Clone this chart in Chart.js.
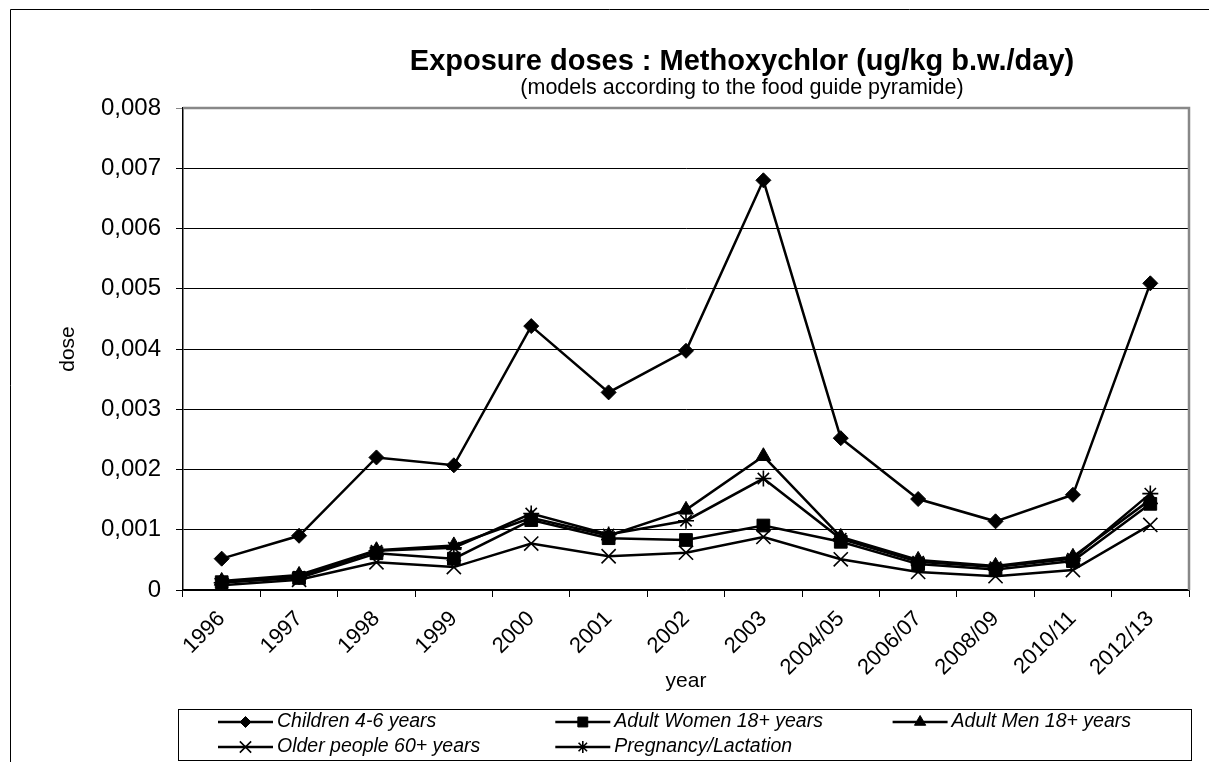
<!DOCTYPE html>
<html>
<head>
<meta charset="utf-8">
<script src="https://cdn.jsdelivr.net/npm/chart.js@4"></script>
<style>
  html, body { margin: 0; padding: 0; background: #fff; }
  #wrap { position: relative; width: 1209px; height: 762px; }
  canvas { display: block; }
</style>
</head>
<body>
<div id="wrap"><canvas id="c" width="1209" height="762"></canvas></div>
<script>
const titleText = "Exposure doses : Methoxychlor (ug/kg b.w./day)";
const subtitleText = "(models according to the food guide pyramide)";
const xAxisTitle = "year";
const yAxisTitle = "dose";

const categories = ["1996", "1997", "1998", "1999", "2000", "2001", "2002", "2003", "2004/05", "2006/07", "2008/09", "2010/11", "2012/13"];
const yTicks = [0, 0.001, 0.002, 0.003, 0.004, 0.005, 0.006, 0.007, 0.008];

const seriesNames = ["Children 4-6 years", "Adult Women 18+ years", "Adult Men 18+ years", "Older people 60+ years", "Pregnancy/Lactation"];
const children   = [0.00052, 0.0009, 0.0022, 0.00207, 0.00438, 0.00328, 0.00397, 0.0068, 0.00252, 0.00151, 0.00114, 0.00158, 0.00509];
const women      = [0.00013, 0.0002, 0.00061, 0.00052, 0.00116, 0.00086, 0.00083, 0.00107, 0.0008, 0.00043, 0.00034, 0.00048, 0.00143];
const men        = [0.00015, 0.00025, 0.00066, 0.00074, 0.0012, 0.0009, 0.00133, 0.00222, 0.00088, 0.0005, 0.0004, 0.00055, 0.0015];
const older      = [0.00008, 0.00017, 0.00046, 0.00038, 0.00077, 0.00056, 0.00062, 0.00088, 0.00051, 0.0003, 0.00023, 0.00033, 0.00108];
const pregnancy  = [0.00012, 0.00022, 0.00065, 0.0007, 0.00127, 0.00092, 0.00115, 0.00185, 0.00085, 0.00047, 0.00038, 0.00052, 0.0016];

const FONT = "'Liberation Sans', Arial, sans-serif";

const markers = [
  { style: 'rectRot', radius: 7.5, legendRadius: 5.5, width: 1 },
  { style: 'rect', radius: 9, legendRadius: 7, width: 1 },
  { style: 'triangle', radius: 8.5, legendRadius: 6.5, width: 1 },
  { style: 'crossRot', radius: 10, legendRadius: 8, width: 1.6 },
  { style: 'star', radius: 8, legendRadius: 6, width: 1.6 }
];
const allSeries = [children, women, men, older, pregnancy];

const datasets = allSeries.map((d, i) => ({
  label: seriesNames[i],
  data: d,
  borderColor: '#000',
  backgroundColor: '#000',
  borderWidth: 2.5,
  tension: 0,
  pointStyle: markers[i].style,
  pointRadius: markers[i].radius,
  pointHoverRadius: markers[i].radius,
  pointBackgroundColor: '#000',
  pointBorderColor: '#000',
  pointBorderWidth: markers[i].width
}));

const framePlugin = {
  id: 'frame',
  beforeDraw(chart) {
    const ctx = chart.ctx;
    ctx.save();
    ctx.fillStyle = '#fff';
    ctx.fillRect(0, 0, chart.width, chart.height);
    // outer chart frame (cut at right/bottom)
    ctx.strokeStyle = '#000';
    ctx.lineWidth = 1;
    ctx.beginPath();
    ctx.moveTo(10.5, chart.height);
    ctx.lineTo(10.5, 9.5);
    ctx.lineTo(chart.width, 9.5);
    ctx.stroke();
    // title + subtitle
    ctx.fillStyle = '#000';
    ctx.textAlign = 'center';
    ctx.textBaseline = 'middle';
    ctx.font = "bold 29px " + FONT;
    ctx.fillText(titleText, 742, 62);
    ctx.font = "21.5px " + FONT;
    ctx.fillText(subtitleText, 742, 88);
    ctx.restore();
  },
  beforeDatasetsDraw(chart) {
    const { ctx, chartArea: a } = chart;
    ctx.save();
    ctx.strokeStyle = '#888';
    ctx.lineWidth = 2.5;
    ctx.beginPath();
    ctx.moveTo(a.left, a.top);
    ctx.lineTo(a.right, a.top);
    ctx.lineTo(a.right, a.bottom);
    ctx.stroke();
    ctx.restore();
  },
  afterDraw(chart) {
    const ctx = chart.ctx;
    ctx.save();
    // legend box
    ctx.strokeStyle = '#000';
    ctx.lineWidth = 1;
    ctx.strokeRect(178.5, 709.5, 1013, 51);
    ctx.font = "italic 19.5px " + FONT;
    ctx.textAlign = 'left';
    ctx.textBaseline = 'middle';
    chart.data.datasets.forEach((ds, i) => {
      const col = i % 3, row = Math.floor(i / 3);
      const x0 = 218 + col * 337.3;
      const y = 722 + row * 25;
      ctx.strokeStyle = '#000';
      ctx.lineWidth = 2.5;
      ctx.beginPath();
      ctx.moveTo(x0, y);
      ctx.lineTo(x0 + 55, y);
      ctx.stroke();
      ctx.fillStyle = '#000';
      ctx.lineWidth = markers[i].width;
      Chart.helpers.drawPoint(ctx, { pointStyle: ds.pointStyle, radius: markers[i].legendRadius, rotation: 0, borderWidth: markers[i].width }, x0 + 27.5, y);
      ctx.fillStyle = '#000';
      ctx.fillText(ds.label, x0 + 59, y);
    });
    ctx.restore();
  }
};

new Chart(document.getElementById('c'), {
  type: 'line',
  data: { labels: categories, datasets },
  options: {
    responsive: false,
    devicePixelRatio: 1,
    animation: false,
    layout: { padding: { left: 50, right: 20, top: 108, bottom: 62 } },
    plugins: {
      legend: { display: false },
      title: { display: false },
      tooltip: { enabled: false }
    },
    scales: {
      x: {
        type: 'category',
        offset: true,
        grid: { offset: true, drawOnChartArea: false, drawTicks: true, tickLength: 7, color: '#000', lineWidth: 1 },
        border: { color: '#000', width: 1.5 },
        ticks: {
          color: '#000',
          font: { family: FONT, size: 22 },
          maxRotation: 45, minRotation: 45,
          autoSkip: false,
          padding: 9
        },
        title: { display: true, text: xAxisTitle, color: '#000', font: { family: FONT, size: 21 }, padding: { top: 0, bottom: 6 } },
        afterFit(scale) { scale.height = 110; }
      },
      y: {
        min: 0, max: 0.008,
        afterBuildTicks(scale) { scale.ticks = yTicks.map(v => ({ value: v })); },
        grid: {
          color: (c) => (c.tick && c.tick.value === 0.008) ? '#888' : '#000',
          lineWidth: 1,
          tickLength: 7,
          drawTicks: true
        },
        border: { color: '#000', width: 1.5 },
        ticks: {
          color: '#000',
          font: { family: FONT, size: 24 },
          padding: 15,
          callback: (v) => v === 0 ? '0' : Number(v).toFixed(3).replace('.', ',')
        },
        title: { display: true, text: yAxisTitle, color: '#000', font: { family: FONT, size: 21 }, padding: { top: 6, bottom: 0 } },
        afterFit(scale) { scale.width = 133; }
      }
    }
  },
  plugins: [framePlugin]
});
</script>
</body>
</html>
